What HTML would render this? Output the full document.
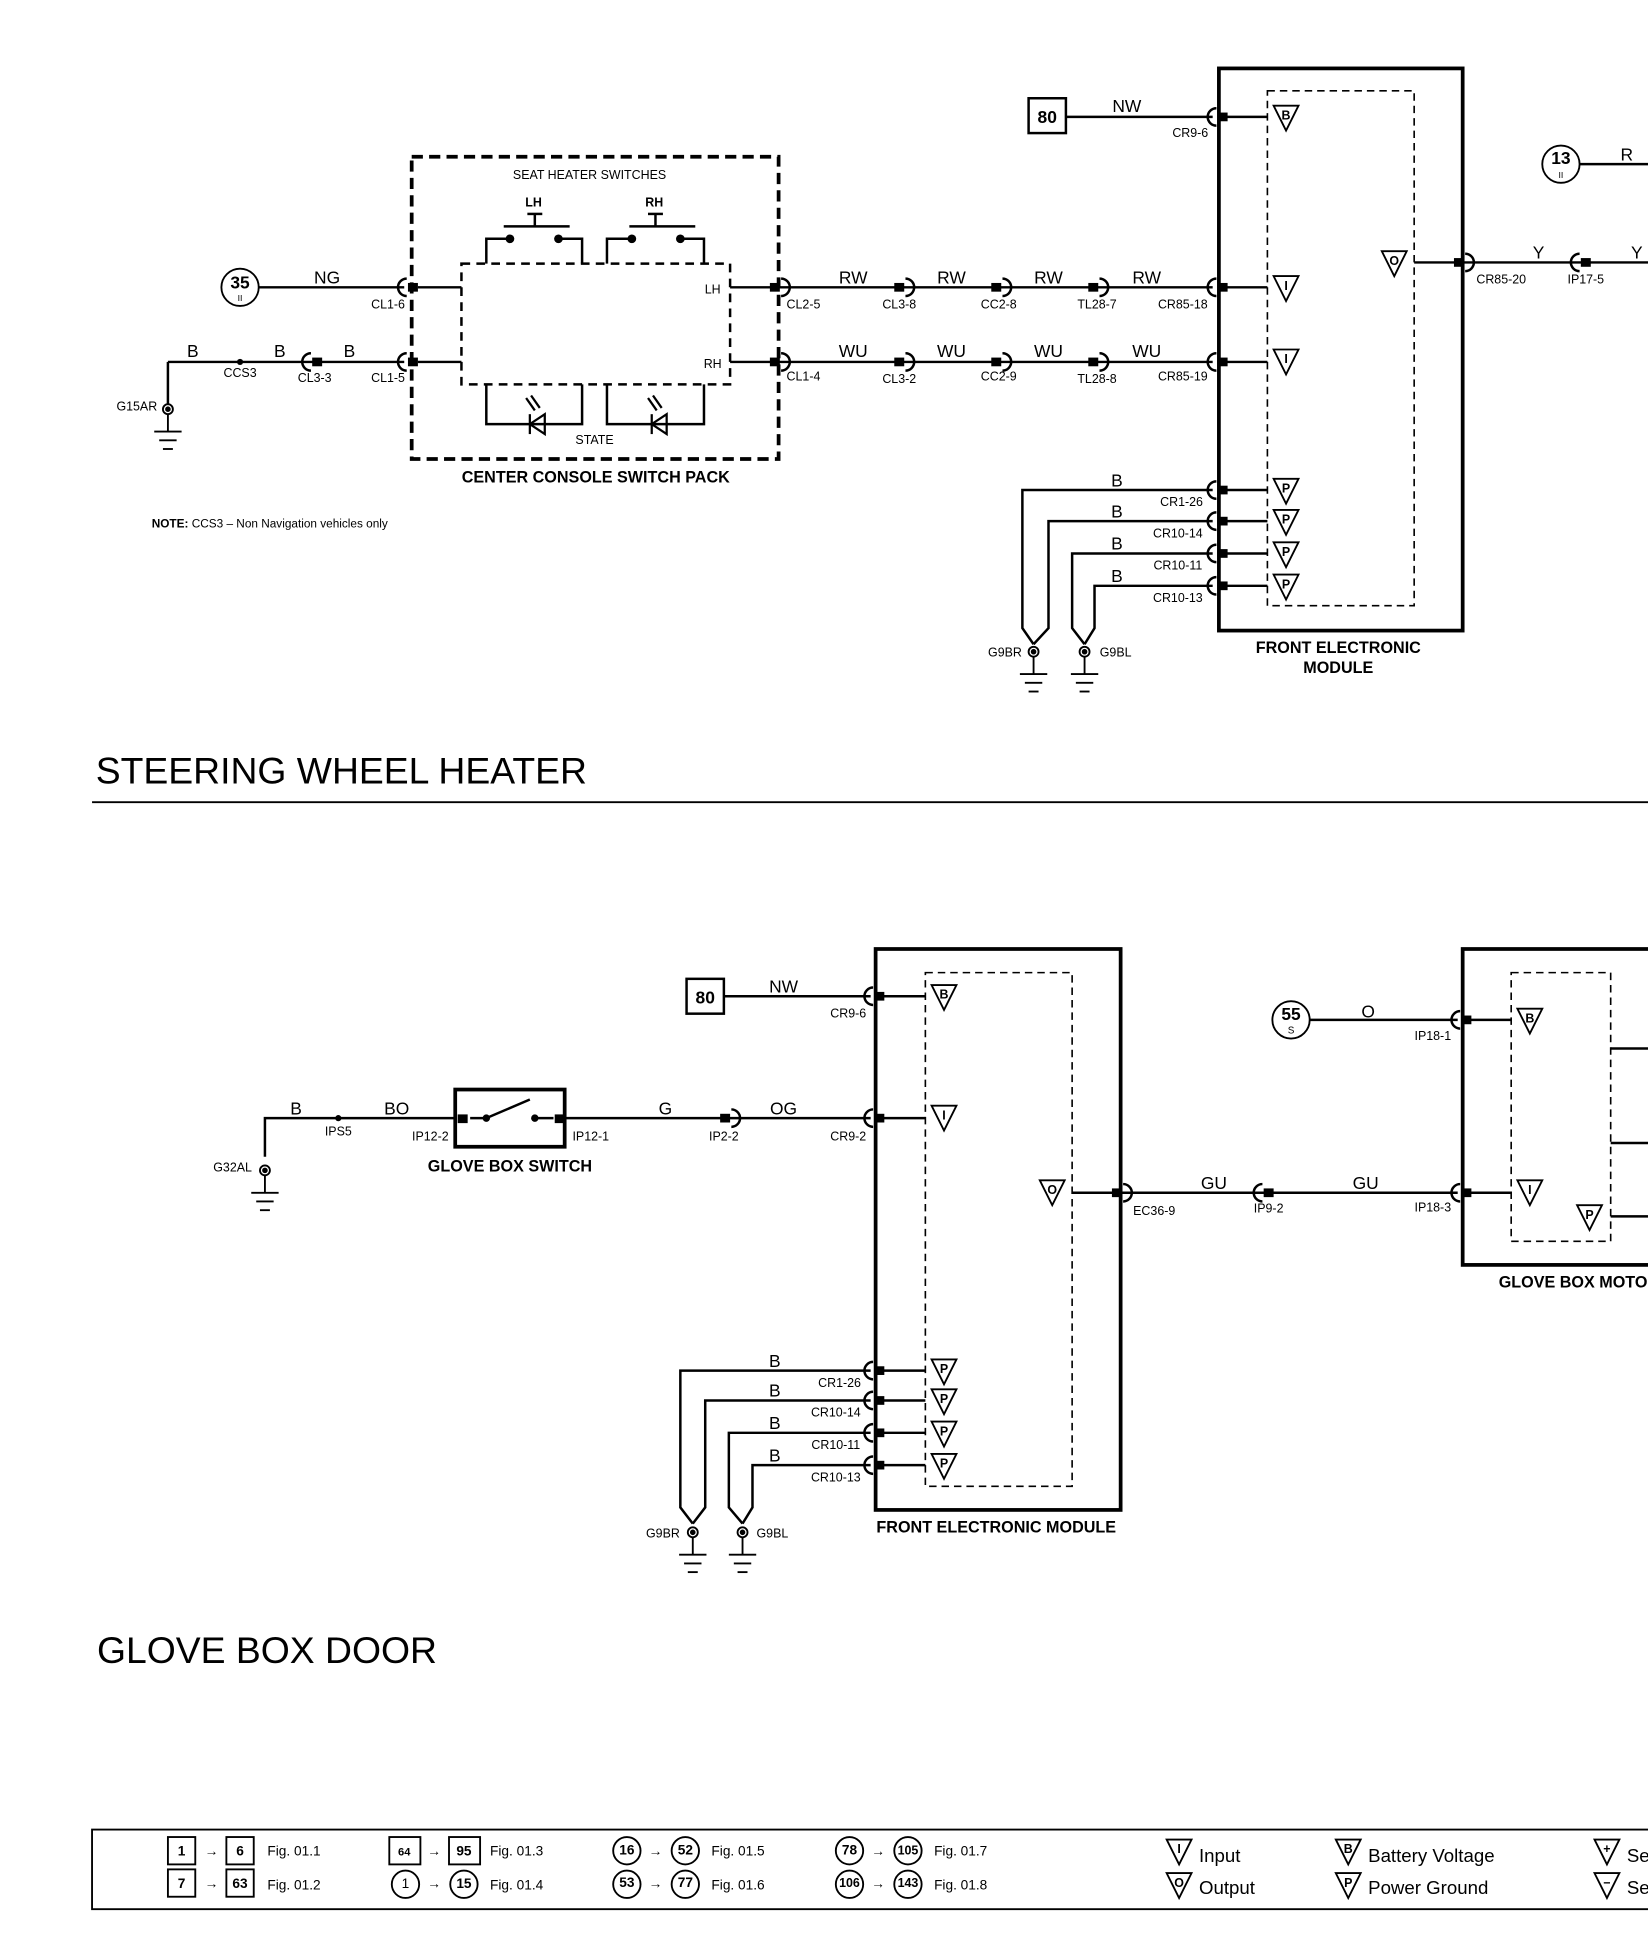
<!DOCTYPE html>
<html><head><meta charset="utf-8"><style>
html,body{margin:0;padding:0;background:#fff;}
svg{display:block;}
text{font-family:"Liberation Sans",sans-serif;fill:#000;}
.s{font-size:10px;}
.m{font-size:14px;}
.b{font-weight:bold;}
</style></head><body>
<svg width="1648" height="1944" viewBox="0 0 1325 1563" xmlns="http://www.w3.org/2000/svg">
<defs>
<g id="cl"><path d="M2,-7 A7,7 0 0 0 2,7" fill="none" stroke="#000" stroke-width="2"/><rect x="3" y="-3.5" width="8" height="7" fill="#000"/></g>
<g id="cr"><rect x="-11" y="-3.5" width="8" height="7" fill="#000"/><path d="M-2,-7 A7,7 0 0 1 -2,7" fill="none" stroke="#000" stroke-width="2"/></g>
<g id="tri"><path d="M-10,-9 L10,-9 L0,11 Z" fill="#fff" stroke="#000" stroke-width="1.5"/></g>
<g id="gnd" stroke="#000" stroke-width="1.5" fill="none"><circle cx="0" cy="0" r="4"/><circle cx="0" cy="0" r="1.5" fill="#000"/><line x1="0" y1="4" x2="0" y2="18"/><line x1="-11" y1="18" x2="11" y2="18"/><line x1="-7" y1="25" x2="7" y2="25"/><line x1="-4" y1="32" x2="4" y2="32"/></g>
</defs>
<g stroke="#000" stroke-width="2" fill="none">
<rect x="827" y="79" width="30" height="28"/>
<line x1="857" y1="94" x2="975" y2="94"/>
<rect x="980" y="55" width="196" height="452" stroke-width="3"/>
<rect x="1019" y="73" width="118" height="414" stroke-width="1.3" stroke-dasharray="6,4"/>
<line x1="1137" y1="211" x2="1325" y2="211"/>
<line x1="1270" y1="132" x2="1325" y2="132"/>
<circle cx="1255" cy="132" r="15" stroke-width="1.5"/>
<circle cx="193" cy="231" r="15" stroke-width="1.5"/>
<line x1="208" y1="231" x2="325" y2="231"/>
<line x1="135" y1="291" x2="325" y2="291"/>
<line x1="135" y1="291" x2="135" y2="325"/>
<rect x="331" y="126" width="295" height="243" stroke-width="3" stroke-dasharray="9,5"/>
<rect x="371" y="212" width="216" height="97" stroke-width="2" stroke-dasharray="7,5"/>
<line x1="336" y1="231" x2="371" y2="231"/><line x1="336" y1="291" x2="371" y2="291"/>
<line x1="587" y1="231" x2="620" y2="231"/><line x1="587" y1="291" x2="620" y2="291"/>
<polyline points="391,212 391,192 408,192"/><polyline points="449,192 468,192 468,212"/>
<polyline points="488,212 488,192 508,192"/><polyline points="547,192 566,192 566,212"/>
<line x1="405" y1="182" x2="458" y2="182"/><line x1="430" y1="172" x2="430" y2="182"/><line x1="424" y1="172" x2="436" y2="172"/>
<line x1="506" y1="182" x2="559" y2="182"/><line x1="527" y1="172" x2="527" y2="182"/><line x1="521" y1="172" x2="533" y2="172"/>
<polyline points="391,309 391,341 468,341 468,309"/>
<polyline points="488,309 488,341 566,341 566,309"/>
<line x1="626" y1="231" x2="975" y2="231"/><line x1="626" y1="291" x2="975" y2="291"/>
<line x1="985" y1="231" x2="1019" y2="231"/><line x1="985" y1="291" x2="1019" y2="291"/>
<line x1="985" y1="94" x2="1019" y2="94"/>
<polyline points="975,394 822,394 822,505 831,518"/>
<polyline points="975,419 843,419 843,505 831,518"/>
<polyline points="975,445 862,445 862,505 872,518"/>
<polyline points="975,471 880,471 880,505 872,518"/>
<line x1="985" y1="394" x2="1019" y2="394"/><line x1="985" y1="419" x2="1019" y2="419"/><line x1="985" y1="445" x2="1019" y2="445"/><line x1="985" y1="471" x2="1019" y2="471"/>
<line x1="74" y1="645" x2="1325" y2="645" stroke-width="1.5"/>
<rect x="552" y="787" width="30" height="28"/>
<line x1="582" y1="801" x2="700" y2="801"/>
<rect x="704" y="763" width="197" height="451" stroke-width="3"/>
<rect x="744" y="782" width="118" height="413" stroke-width="1.3" stroke-dasharray="6,4"/>
<line x1="710" y1="801" x2="744" y2="801"/><line x1="710" y1="899" x2="744" y2="899"/>
<line x1="862" y1="959" x2="1172" y2="959"/>
<rect x="1176" y="763" width="160" height="254" stroke-width="3"/>
<rect x="1215" y="782" width="80" height="216" stroke-width="1.3" stroke-dasharray="6,4"/>
<line x1="1181" y1="820" x2="1215" y2="820"/><line x1="1181" y1="959" x2="1215" y2="959"/>
<line x1="1295" y1="843" x2="1325" y2="843"/><line x1="1295" y1="919" x2="1325" y2="919"/><line x1="1295" y1="978" x2="1325" y2="978"/>
<circle cx="1038" cy="820" r="15" stroke-width="1.5"/>
<line x1="1053" y1="820" x2="1172" y2="820"/>
<polyline points="213,930 213,899 366,899"/>
<rect x="366" y="876" width="88" height="46" stroke-width="3"/>
<line x1="378" y1="899" x2="391" y2="899"/><line x1="391" y1="899" x2="426" y2="884"/><line x1="430" y1="899" x2="445" y2="899"/>
<line x1="454" y1="899" x2="700" y2="899"/>
<polyline points="700,1102 547,1102 547,1212 557,1225"/>
<polyline points="700,1126 567,1126 567,1212 557,1225"/>
<polyline points="700,1152 586,1152 586,1212 597,1225"/>
<polyline points="700,1178 605,1178 605,1212 597,1225"/>
<line x1="710" y1="1102" x2="744" y2="1102"/><line x1="710" y1="1126" x2="744" y2="1126"/><line x1="710" y1="1152" x2="744" y2="1152"/><line x1="710" y1="1178" x2="744" y2="1178"/>
<rect x="74" y="1471" width="1260" height="64" stroke-width="1.5"/>
</g>
<g fill="#000"><circle cx="410" cy="192" r="3.5"/><circle cx="449" cy="192" r="3.5"/><circle cx="508" cy="192" r="3.5"/><circle cx="547" cy="192" r="3.5"/>
<circle cx="193" cy="291" r="2.5"/><circle cx="272" cy="899" r="2.5"/><circle cx="391" cy="899" r="3"/><circle cx="430" cy="899" r="3"/>
<rect x="368" y="896" width="8" height="7"/><rect x="446" y="896" width="8" height="7"/></g>
<g stroke="#000" stroke-width="1.8" fill="none">
<path d="M438,333 L438,349 L426,341 Z"/><line x1="426" y1="333" x2="426" y2="349"/><line x1="430" y1="330" x2="423" y2="320"/><line x1="434" y1="328" x2="427" y2="318"/>
<path d="M536,333 L536,349 L524,341 Z"/><line x1="524" y1="333" x2="524" y2="349"/><line x1="528" y1="330" x2="521" y2="320"/><line x1="532" y1="328" x2="525" y2="318"/>
</g>
<use href="#cl" x="976" y="94"/><use href="#cl" x="976" y="231"/><use href="#cl" x="976" y="291"/>
<use href="#cl" x="976" y="394"/><use href="#cl" x="976" y="419"/><use href="#cl" x="976" y="445"/><use href="#cl" x="976" y="471"/>
<use href="#cr" x="1180" y="211"/><use href="#cl" x="1268" y="211"/>
<use href="#cl" x="325" y="231"/><use href="#cl" x="325" y="291"/><use href="#cl" x="248" y="291"/>
<use href="#cr" x="630" y="231"/><use href="#cr" x="630" y="291"/>
<use href="#cr" x="730" y="231"/><use href="#cr" x="730" y="291"/>
<use href="#cr" x="808" y="231"/><use href="#cr" x="808" y="291"/>
<use href="#cr" x="886" y="231"/><use href="#cr" x="886" y="291"/>
<use href="#cl" x="700" y="801"/><use href="#cl" x="700" y="899"/>
<use href="#cl" x="700" y="1102"/><use href="#cl" x="700" y="1126"/><use href="#cl" x="700" y="1152"/><use href="#cl" x="700" y="1178"/>
<use href="#cr" x="905" y="959"/><use href="#cl" x="1013" y="959"/><use href="#cl" x="1172" y="959"/><use href="#cl" x="1172" y="820"/>
<use href="#cr" x="590" y="899"/>
<use href="#gnd" x="135" y="329"/><use href="#gnd" x="831" y="524"/><use href="#gnd" x="872" y="524"/>
<use href="#gnd" x="213" y="941"/><use href="#gnd" x="557" y="1232"/><use href="#gnd" x="597" y="1232"/>
<g font-family="Liberation Sans" font-weight="bold" font-size="10" text-anchor="middle">
<use href="#tri" x="1034" y="94"/><text x="1034" y="96">B</text>
<use href="#tri" x="1034" y="231"/><text x="1034" y="233">I</text>
<use href="#tri" x="1034" y="290"/><text x="1034" y="292">I</text>
<use href="#tri" x="1034" y="394"/><text x="1034" y="396">P</text>
<use href="#tri" x="1034" y="419"/><text x="1034" y="421">P</text>
<use href="#tri" x="1034" y="445"/><text x="1034" y="447">P</text>
<use href="#tri" x="1034" y="471"/><text x="1034" y="473">P</text>
<use href="#tri" x="1121" y="211"/><text x="1121" y="213">O</text>
<use href="#tri" x="759" y="801"/><text x="759" y="803">B</text>
<use href="#tri" x="759" y="898"/><text x="759" y="900">I</text>
<use href="#tri" x="846" y="958"/><text x="846" y="960">O</text>
<use href="#tri" x="759" y="1102"/><text x="759" y="1104">P</text>
<use href="#tri" x="759" y="1126"/><text x="759" y="1128">P</text>
<use href="#tri" x="759" y="1152"/><text x="759" y="1154">P</text>
<use href="#tri" x="759" y="1178"/><text x="759" y="1180">P</text>
<use href="#tri" x="1230" y="820"/><text x="1230" y="822">B</text>
<use href="#tri" x="1230" y="958"/><text x="1230" y="960">I</text>
<use href="#tri" x="1278" y="978"/><text x="1278" y="980">P</text>
<use href="#tri" x="948" y="1488"/><text x="948" y="1490">I</text>
<use href="#tri" x="948" y="1515"/><text x="948" y="1517">O</text>
<use href="#tri" x="1084" y="1488"/><text x="1084" y="1490">B</text>
<use href="#tri" x="1084" y="1515"/><text x="1084" y="1517">P</text>
<use href="#tri" x="1292" y="1488"/><text x="1292" y="1490">+</text>
<use href="#tri" x="1292" y="1515"/><text x="1292" y="1517">−</text>
</g>
<text x="842" y="99" class="m b" text-anchor="middle">80</text>
<text x="906" y="90" class="m" text-anchor="middle">NW</text>
<text x="957" y="110" class="s" text-anchor="middle">CR9-6</text>
<text x="1255" y="132" class="m b" text-anchor="middle">13</text><text x="1255" y="143" font-size="7" text-anchor="middle">II</text>
<text x="1308" y="129" class="m" text-anchor="middle">R</text>
<text x="1237" y="208" class="m" text-anchor="middle">Y</text>
<text x="1316" y="208" class="m" text-anchor="middle">Y</text>
<text x="1207" y="228" class="s" text-anchor="middle">CR85-20</text>
<text x="1275" y="228" class="s" text-anchor="middle">IP17-5</text>
<text x="193" y="232" class="m b" text-anchor="middle">35</text><text x="193" y="242" font-size="7" text-anchor="middle">II</text>
<text x="263" y="228" class="m" text-anchor="middle">NG</text>
<text x="312" y="248" class="s" text-anchor="middle">CL1-6</text>
<text x="312" y="307" class="s" text-anchor="middle">CL1-5</text>
<text x="155" y="287" class="m" text-anchor="middle">B</text>
<text x="225" y="287" class="m" text-anchor="middle">B</text>
<text x="281" y="287" class="m" text-anchor="middle">B</text>
<text x="193" y="303" class="s" text-anchor="middle">CCS3</text>
<text x="253" y="307" class="s" text-anchor="middle">CL3-3</text>
<text x="110" y="330" class="s" text-anchor="middle">G15AR</text>
<text x="474" y="144" class="s" text-anchor="middle">SEAT HEATER SWITCHES</text>
<text x="429" y="166" class="s b" text-anchor="middle">LH</text>
<text x="526" y="166" class="s b" text-anchor="middle">RH</text>
<text x="573" y="236" class="s" text-anchor="middle">LH</text>
<text x="573" y="296" class="s" text-anchor="middle">RH</text>
<text x="478" y="357" class="s" text-anchor="middle">STATE</text>
<text x="479" y="388" font-size="13" class="b" text-anchor="middle">CENTER CONSOLE SWITCH PACK</text>
<text x="122" y="424" font-size="9.5" class="b">NOTE: <tspan font-weight="normal">CCS3 – Non Navigation vehicles only</tspan></text>
<g class="m" text-anchor="middle"><text x="686" y="228">RW</text><text x="765" y="228">RW</text><text x="843" y="228">RW</text><text x="922" y="228">RW</text>
<text x="686" y="287">WU</text><text x="765" y="287">WU</text><text x="843" y="287">WU</text><text x="922" y="287">WU</text></g>
<g class="s" text-anchor="middle"><text x="646" y="248">CL2-5</text><text x="723" y="248">CL3-8</text><text x="803" y="248">CC2-8</text><text x="882" y="248">TL28-7</text><text x="951" y="248">CR85-18</text>
<text x="646" y="306">CL1-4</text><text x="723" y="308">CL3-2</text><text x="803" y="306">CC2-9</text><text x="882" y="308">TL28-8</text><text x="951" y="306">CR85-19</text>
<text x="950" y="407">CR1-26</text><text x="947" y="432">CR10-14</text><text x="947" y="458">CR10-11</text><text x="947" y="484">CR10-13</text>
<text x="808" y="528">G9BR</text><text x="897" y="528">G9BL</text></g>
<g class="m" text-anchor="middle"><text x="898" y="391">B</text><text x="898" y="416">B</text><text x="898" y="442">B</text><text x="898" y="468">B</text></g>
<text x="1076" y="525" font-size="13" class="b" text-anchor="middle">FRONT ELECTRONIC</text>
<text x="1076" y="541" font-size="13" class="b" text-anchor="middle">MODULE</text>
<text x="77" y="630" font-size="30">STEERING WHEEL HEATER</text>
<text x="567" y="807" class="m b" text-anchor="middle">80</text>
<text x="630" y="798" class="m" text-anchor="middle">NW</text>
<text x="682" y="818" class="s" text-anchor="middle">CR9-6</text>
<text x="238" y="896" class="m" text-anchor="middle">B</text>
<text x="319" y="896" class="m" text-anchor="middle">BO</text>
<text x="272" y="913" class="s" text-anchor="middle">IPS5</text>
<text x="346" y="917" class="s" text-anchor="middle">IP12-2</text>
<text x="475" y="917" class="s" text-anchor="middle">IP12-1</text>
<text x="410" y="942" font-size="13" class="b" text-anchor="middle">GLOVE BOX SWITCH</text>
<text x="187" y="942" class="s" text-anchor="middle">G32AL</text>
<text x="535" y="896" class="m" text-anchor="middle">G</text>
<text x="630" y="896" class="m" text-anchor="middle">OG</text>
<text x="582" y="917" class="s" text-anchor="middle">IP2-2</text>
<text x="682" y="917" class="s" text-anchor="middle">CR9-2</text>
<text x="976" y="956" class="m" text-anchor="middle">GU</text>
<text x="1098" y="956" class="m" text-anchor="middle">GU</text>
<text x="928" y="977" class="s" text-anchor="middle">EC36-9</text>
<text x="1020" y="975" class="s" text-anchor="middle">IP9-2</text>
<text x="1152" y="974" class="s" text-anchor="middle">IP18-3</text>
<text x="1038" y="820" class="m b" text-anchor="middle">55</text><text x="1038" y="831" font-size="8" text-anchor="middle">S</text>
<text x="1100" y="818" class="m" text-anchor="middle">O</text>
<text x="1152" y="836" class="s" text-anchor="middle">IP18-1</text>
<text x="1205" y="1035" font-size="13" class="b">GLOVE BOX MOTOR</text>
<g class="m" text-anchor="middle"><text x="623" y="1099">B</text><text x="623" y="1123">B</text><text x="623" y="1149">B</text><text x="623" y="1175">B</text></g>
<g class="s" text-anchor="middle"><text x="675" y="1115">CR1-26</text><text x="672" y="1139">CR10-14</text><text x="672" y="1165">CR10-11</text><text x="672" y="1191">CR10-13</text>
<text x="533" y="1236">G9BR</text><text x="621" y="1236">G9BL</text></g>
<text x="801" y="1232" font-size="13" class="b" text-anchor="middle">FRONT ELECTRONIC MODULE</text>
<text x="78" y="1337" font-size="30">GLOVE BOX DOOR</text>
<g stroke="#000" stroke-width="1.5" fill="none">
<rect x="135" y="1477" width="22" height="22"/><rect x="182" y="1477" width="22" height="22"/>
<rect x="135" y="1503" width="22" height="22"/><rect x="182" y="1503" width="22" height="22"/>
<rect x="313" y="1477" width="25" height="22"/><rect x="361" y="1477" width="25" height="22"/>
<circle cx="326" cy="1515" r="11"/><circle cx="373" cy="1515" r="11"/>
<circle cx="504" cy="1488" r="11"/><circle cx="551" cy="1488" r="11"/>
<circle cx="504" cy="1515" r="11"/><circle cx="551" cy="1515" r="11"/>
<circle cx="683" cy="1488" r="11"/><circle cx="730" cy="1488" r="11"/>
<circle cx="683" cy="1515" r="11"/><circle cx="730" cy="1515" r="11"/>
</g>
<g font-size="11" text-anchor="middle" class="b">
<text x="146" y="1492">1</text><text x="193" y="1492">6</text><text x="146" y="1518">7</text><text x="193" y="1518">63</text>
<text x="325" y="1492" font-size="9">64</text><text x="373" y="1492">95</text><text x="373" y="1518">15</text><text x="326" y="1518" font-weight="normal">1</text>
<text x="504" y="1491">16</text><text x="551" y="1491">52</text><text x="504" y="1517">53</text><text x="551" y="1517">77</text>
<text x="683" y="1491">78</text><text x="730" y="1491" font-size="10">105</text><text x="683" y="1517" font-size="10">106</text><text x="730" y="1517" font-size="10">143</text>
</g>
<g font-size="11" text-anchor="middle">
<text x="170" y="1492">→</text><text x="170" y="1518">→</text><text x="349" y="1492">→</text><text x="349" y="1518">→</text>
<text x="527" y="1492">→</text><text x="527" y="1518">→</text><text x="706" y="1492">→</text><text x="706" y="1518">→</text>
</g>
<g font-size="11"><text x="215" y="1492">Fig. 01.1</text><text x="215" y="1519">Fig. 01.2</text><text x="394" y="1492">Fig. 01.3</text><text x="394" y="1519">Fig. 01.4</text>
<text x="572" y="1492">Fig. 01.5</text><text x="572" y="1519">Fig. 01.6</text><text x="751" y="1492">Fig. 01.7</text><text x="751" y="1519">Fig. 01.8</text></g>
<g font-size="15"><text x="964" y="1497">Input</text><text x="964" y="1523">Output</text><text x="1100" y="1497">Battery Voltage</text><text x="1100" y="1523">Power Ground</text><text x="1308" y="1497">Se</text><text x="1308" y="1523">Se</text></g>
</svg>
</body></html>
